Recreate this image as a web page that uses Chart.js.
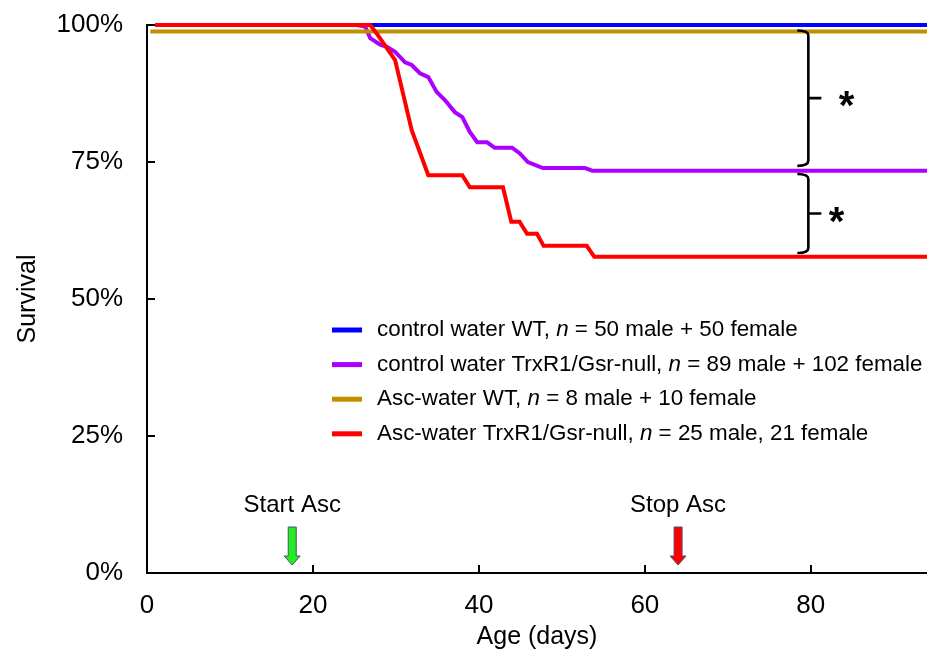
<!DOCTYPE html>
<html><head><meta charset="utf-8">
<script src="https://cdn.jsdelivr.net/npm/chart.js@4.4.1/dist/chart.umd.min.js"></script>
<style>html,body{margin:0;padding:0;background:#fff;}#wrap{width:927px;height:655px;position:relative;}</style>
</head><body><div id="wrap"><canvas id="c"></canvas></div>
<script>
// ---- data ----
const seriesLabels = [
  'control water WT, |n| = 50 male + 50 female',
  'control water TrxR1/Gsr-null, |n| = 89 male + 102 female',
  'Asc-water WT, |n| = 8 male + 10 female',
  'Asc-water TrxR1/Gsr-null, |n| = 25 male, 21 female'
];
const seriesColors = ['#0000FF', '#AA00FF', '#BF9000', '#FF0000'];

const wtCtrlDays = [1, 94];
const wtCtrlSurv = [100, 100];

const nullCtrlDays = [1, 25.3, 26.3, 26.9, 28.1, 28.9, 29.9, 31.1, 31.9, 32.9, 33.9, 34.9, 35.9, 37.1, 38.0, 38.9, 39.8, 41.0, 41.9, 44.0, 44.9, 45.9, 47.7, 52.8, 53.7, 94];
const nullCtrlSurv = [100, 100, 99.7, 97.6, 96.4, 96.0, 95.1, 93.2, 92.7, 91.2, 90.5, 87.8, 86.3, 84.1, 83.2, 80.5, 78.6, 78.6, 77.6, 77.6, 76.6, 75.0, 73.9, 73.9, 73.4, 73.4];

const wtAscDays = [0.4, 94];
const wtAscSurv = [98.8, 98.8];

const nullAscDays = [1, 26.9, 27.8, 29.9, 31.9, 33.9, 38.0, 38.9, 42.9, 43.9, 44.9, 45.8, 47.0, 47.8, 53.0, 53.9, 94];
const nullAscSurv = [100, 100, 98.2, 93.6, 80.8, 72.6, 72.6, 70.4, 70.4, 64.1, 64.1, 61.9, 61.9, 59.7, 59.7, 57.7, 57.7];

const xTickValues = [0, 20, 40, 60, 80];
const yTickValues = [0, 25, 50, 75, 100];

// annotations (in data units)
const arrowMarks = [
  { day: 17.5, label: 'Start Asc', fill: '#22EE22' },
  { day: 64.0, label: 'Stop Asc', fill: '#FF0000' }
];
const braceMarks = [
  { top: 99.0, bottom: 74.3, starDay: 84.3 },
  { top: 72.8, bottom: 58.4, starDay: 83.1 }
];

const FONT = '"Liberation Sans", Arial, sans-serif';
const toPts = (xs, ys) => xs.map((x, i) => ({ x: x, y: ys[i] }));

const overlay = {
  id: 'overlay',
  afterDraw(chart) {
    const ctx = chart.ctx, xs = chart.scales.x, ys = chart.scales.y, ca = chart.chartArea;
    ctx.save();
    // inward ticks
    ctx.strokeStyle = '#000'; ctx.lineWidth = 2;
    xTickValues.forEach(v => {
      const px = Math.round(xs.getPixelForValue(v));
      if (v === 0) return;
      ctx.beginPath(); ctx.moveTo(px, ys.getPixelForValue(0)); ctx.lineTo(px, ys.getPixelForValue(0) - 8); ctx.stroke();
    });
    yTickValues.forEach(v => {
      const py = Math.round(ys.getPixelForValue(v));
      ctx.beginPath(); ctx.moveTo(ca.left, py); ctx.lineTo(ca.left + 8, py); ctx.stroke();
    });
    // arrows + labels
    arrowMarks.forEach(a => {
      const cx = xs.getPixelForValue(a.day);
      const top = ys.getPixelForValue(0) - 46, tip = ys.getPixelForValue(0) - 8;
      const hw = 4, hh = 8, hl = 9;
      ctx.beginPath();
      ctx.moveTo(cx - hw, top); ctx.lineTo(cx + hw, top); ctx.lineTo(cx + hw, tip - hl);
      ctx.lineTo(cx + hh, tip - hl); ctx.lineTo(cx, tip); ctx.lineTo(cx - hh, tip - hl);
      ctx.lineTo(cx - hw, tip - hl); ctx.closePath();
      ctx.fillStyle = a.fill; ctx.fill();
      ctx.lineWidth = 1; ctx.strokeStyle = '#44546A'; ctx.stroke();
      ctx.fillStyle = '#000'; ctx.font = '24px ' + FONT; ctx.textAlign = 'center'; ctx.textBaseline = 'alphabetic';
      ctx.fillText(a.label, cx, top - 15);
    });
    // braces + stars
    braceMarks.forEach(b => {
      const x = xs.getPixelForValue(79.7), xl = x - 11, xr = x + 13;
      const yt = ys.getPixelForValue(b.top), yb = ys.getPixelForValue(b.bottom), ym = (yt + yb) / 2;
      ctx.strokeStyle = '#000'; ctx.lineWidth = 2.6; ctx.lineJoin = 'round';
      ctx.beginPath();
      ctx.moveTo(xl, yt); ctx.quadraticCurveTo(x, yt, x, yt + 5);
      ctx.lineTo(x, yb - 5); ctx.quadraticCurveTo(x, yb, xl, yb);
      ctx.moveTo(x, ym); ctx.lineTo(xr, ym);
      ctx.stroke();
      ctx.fillStyle = '#000'; ctx.font = 'bold 40px ' + FONT; ctx.textAlign = 'center'; ctx.textBaseline = 'alphabetic';
      ctx.fillText('*', xs.getPixelForValue(b.starDay), ym + 21);
    });
    // legend
    const lx = ca.left + 185, ly0 = ca.top + 305, step = 34.6;
    chart.data.datasets.forEach((ds, i) => {
      const y = ly0 + i * step;
      ctx.strokeStyle = ds.borderColor; ctx.lineWidth = 5; ctx.lineCap = 'butt';
      ctx.beginPath(); ctx.moveTo(lx, y); ctx.lineTo(lx + 30, y); ctx.stroke();
      let tx = lx + 45;
      ctx.fillStyle = '#000'; ctx.textAlign = 'left'; ctx.textBaseline = 'middle';
      ds.label.split('|').forEach((part, k) => {
        ctx.font = (k % 2 === 1 ? 'italic ' : '') + '22.4px ' + FONT;
        ctx.fillText(part, tx, y);
        tx += ctx.measureText(part).width;
      });
    });
    ctx.restore();
  }
};

const mk = (i, xs, ys, order) => ({
  label: seriesLabels[i], data: toPts(xs, ys), borderColor: seriesColors[i], backgroundColor: seriesColors[i],
  borderWidth: 4, pointRadius: 0, tension: 0, fill: false, order: order, clip: false
});

new Chart(document.getElementById('c'), {
  type: 'line',
  data: { datasets: [
    mk(0, wtCtrlDays, wtCtrlSurv, 4),
    mk(1, nullCtrlDays, nullCtrlSurv, 3),
    mk(2, wtAscDays, wtAscSurv, 2),
    mk(3, nullAscDays, nullAscSurv, 1)
  ]},
  options: {
    responsive: true, maintainAspectRatio: false, animation: false,
    layout: { padding: { top: 25, right: 0, left: 0, bottom: 0 } },
    plugins: { legend: { display: false }, tooltip: { enabled: false } },
    scales: {
      x: {
        type: 'linear', min: 0, max: 94,
        afterBuildTicks: s => { s.ticks = xTickValues.map(v => ({ value: v })); },
        afterFit: s => { s.height = 82; s.paddingLeft = 0; s.paddingRight = 0; },
        grid: { display: false, drawTicks: false },
        border: { display: true, color: '#000', width: 2 },
        ticks: { color: '#000', font: { family: FONT, size: 26 }, padding: 17, maxRotation: 0 },
        title: { display: true, text: 'Age (days)', color: '#000', font: { family: FONT, size: 25 }, padding: { top: 4, bottom: 3 } }
      },
      y: {
        min: 0, max: 100,
        afterBuildTicks: s => { s.ticks = yTickValues.map(v => ({ value: v })); },
        afterFit: s => { s.width = 147; s.paddingTop = 0; s.paddingBottom = 0; },
        grid: { display: false, drawTicks: false },
        border: { display: true, color: '#000', width: 2 },
        ticks: { color: '#000', font: { family: FONT, size: 26 }, padding: 24, callback: v => v + '%' },
        title: { display: true, text: 'Survival', color: '#000', font: { family: FONT, size: 25 }, padding: { top: 13, bottom: 13 } }
      }
    }
  },
  plugins: [overlay]
});
</script></body></html>
